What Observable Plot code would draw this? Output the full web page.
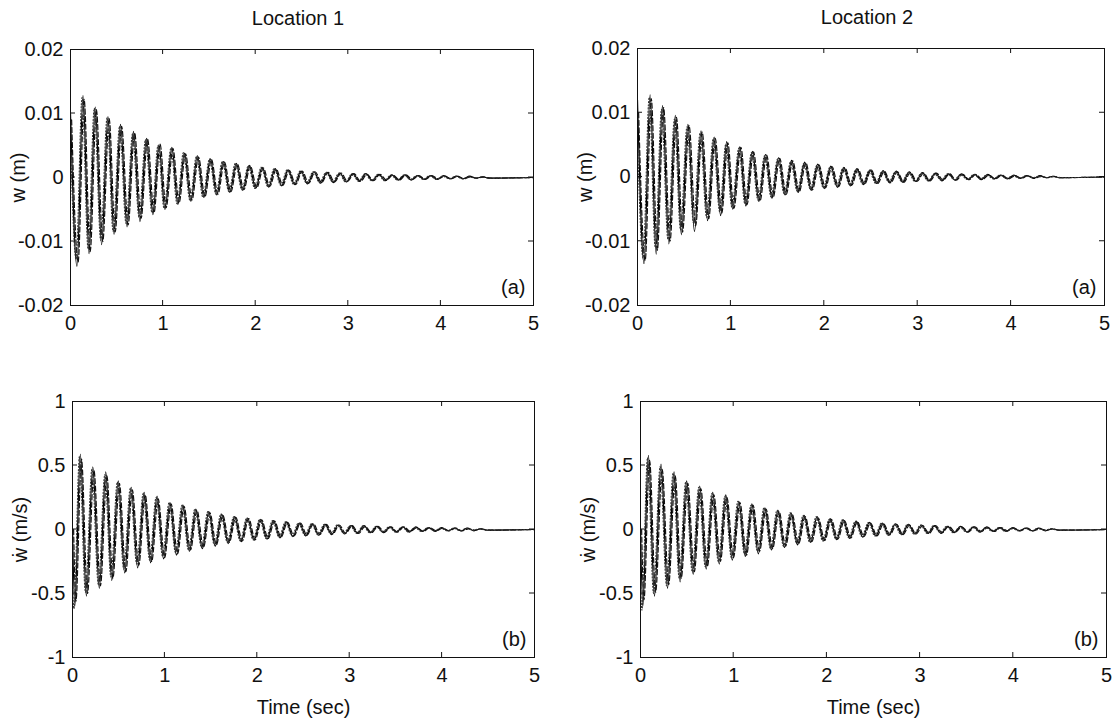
<!DOCTYPE html>
<html>
<head>
<meta charset="utf-8">
<script src="https://cdn.jsdelivr.net/npm/d3@7"></script>
<script src="https://cdn.jsdelivr.net/npm/@observablehq/plot@0.6"></script>
<style>
  html, body { margin: 0; padding: 0; background: #fff; }
  #wrap { position: relative; width: 1118px; height: 724px; background: #fff; overflow: hidden; }
  #wrap svg { position: absolute; }
</style>
</head>
<body>
<div id="wrap"></div>
<script>
// ---------- tick labels ----------
const xTicks = [0, 1, 2, 3, 4, 5];
const wTicks = [-0.02, -0.01, 0, 0.01, 0.02];
const vTicks = [-1, -0.5, 0, 0.5, 1];

// ---------- series names / time shifts ----------
const seriesNames = ["solid", "dashed", "dotted"];
const seriesShift = [0, 0.012, -0.010];

// ---------- times of the extrema (s) ----------
const tW = [0.00, 0.07, 0.135, 0.20, 0.267, 0.336, 0.405, 0.47, 0.54, 0.61,
  0.68, 0.75, 0.82, 0.89, 0.955, 1.02, 1.095, 1.16, 1.23, 1.30,
  1.37, 1.44, 1.51, 1.58, 1.65, 1.72, 1.79, 1.86, 1.93, 2.00,
  2.07, 2.14, 2.21, 2.28, 2.35, 2.42, 2.49, 2.56, 2.63, 2.70,
  2.77, 2.84, 2.91, 2.98, 3.05, 3.12, 3.19, 3.26, 3.33, 3.40,
  3.47, 3.54, 3.61, 3.68, 3.75, 3.82, 3.89, 3.96, 4.03, 4.10,
  4.17, 4.24, 4.31, 4.38, 4.45, 4.52, 5.00];
const tV = [0.00, 0.025, 0.085, 0.15, 0.22, 0.29, 0.36, 0.425, 0.495, 0.565,
  0.635, 0.705, 0.775, 0.845, 0.915, 0.985, 1.055, 1.125, 1.195, 1.265,
  1.335, 1.405, 1.475, 1.545, 1.615, 1.685, 1.755, 1.825, 1.895, 1.965,
  2.035, 2.105, 2.175, 2.245, 2.315, 2.385, 2.455, 2.525, 2.595, 2.665,
  2.735, 2.805, 2.875, 2.945, 3.015, 3.085, 3.155, 3.225, 3.295, 3.365,
  3.435, 3.505, 3.575, 3.645, 3.715, 3.785, 3.855, 3.925, 3.995, 4.065,
  4.135, 4.205, 4.275, 4.345, 4.415, 4.485, 5.00];

// ---------- Location 1, displacement w (m) ----------
const w1Solid = [0.010, -0.0139, 0.0128, -0.0119, 0.0110, -0.0105, 0.0095, -0.0089, 0.0083, -0.0077,
  0.0072, -0.0069, 0.0061, -0.0058, 0.0051, -0.0050, 0.0047, -0.0042, 0.0038, -0.0037,
  0.0034, -0.0031, 0.0029, -0.0027, 0.0025, -0.0023, 0.0022, -0.0020, 0.0019, -0.0017,
  0.0016, -0.0015, 0.0014, -0.0013, 0.0012, -0.0011, 0.0010, -0.0010, 0.0009, -0.0009,
  0.0008, -0.0008, 0.0007, -0.0007, 0.0006, -0.0006, 0.0006, -0.0005, 0.0005, -0.0005,
  0.0004, -0.0004, 0.0004, -0.0004, 0.0003, -0.0003, 0.0003, -0.0003, 0.0003, -0.0002,
  0.0002, -0.0002, 0.0002, -0.0001, 0.0001, -0.0001, 0];
const w1Dashed = [0.009, -0.0132, 0.0122, -0.0116, 0.0106, -0.0100, 0.0092, -0.0085, 0.0080, -0.0074,
  0.0070, -0.0064, 0.0060, -0.0055, 0.0052, -0.0047, 0.0045, -0.0040, 0.0037, -0.0035,
  0.0032, -0.0030, 0.0028, -0.0026, 0.0024, -0.0022, 0.0021, -0.0019, 0.0018, -0.0016,
  0.0015, -0.0014, 0.0013, -0.0012, 0.0011, -0.0011, 0.0010, -0.0009, 0.0009, -0.0008,
  0.0008, -0.0007, 0.0007, -0.0006, 0.0006, -0.0006, 0.0005, -0.0005, 0.0005, -0.0004,
  0.0004, -0.0004, 0.0004, -0.0003, 0.0003, -0.0003, 0.0003, -0.0002, 0.0002, -0.0002,
  0.0002, -0.0002, 0.0001, -0.0001, 0.0001, -0.0001, 0];
const w1Dotted = [0.011, -0.0128, 0.0125, -0.0112, 0.0108, -0.0098, 0.0093, -0.0084, 0.0080, -0.0072,
  0.0068, -0.0062, 0.0059, -0.0055, 0.0050, -0.0048, 0.0046, -0.0041, 0.0039, -0.0036,
  0.0033, -0.0031, 0.0029, -0.0026, 0.0025, -0.0022, 0.0022, -0.0019, 0.0018, -0.0017,
  0.0016, -0.0014, 0.0014, -0.0012, 0.0012, -0.0011, 0.0010, -0.0009, 0.0009, -0.0008,
  0.0008, -0.0007, 0.0007, -0.0007, 0.0006, -0.0006, 0.0006, -0.0005, 0.0005, -0.0005,
  0.0004, -0.0004, 0.0004, -0.0003, 0.0003, -0.0003, 0.0003, -0.0003, 0.0002, -0.0002,
  0.0002, -0.0002, 0.0001, -0.0001, 0.0001, -0.0001, 0];

// ---------- Location 2, displacement w (m) ----------
const w2Solid = [0.012, -0.0135, 0.0128, -0.0120, 0.0111, -0.0104, 0.0096, -0.0090, 0.0082, -0.0085,
  0.0072, -0.0068, 0.0062, -0.0060, 0.0055, -0.0050, 0.0047, -0.0045, 0.0040, -0.0038,
  0.0035, -0.0033, 0.0030, -0.0028, 0.0026, -0.0024, 0.0023, -0.0021, 0.0020, -0.0018,
  0.0017, -0.0016, 0.0015, -0.0014, 0.0013, -0.0012, 0.0011, -0.0010, 0.0010, -0.0009,
  0.0009, -0.0008, 0.0008, -0.0007, 0.0007, -0.0006, 0.0006, -0.0006, 0.0005, -0.0005,
  0.0005, -0.0004, 0.0004, -0.0004, 0.0004, -0.0003, 0.0003, -0.0003, 0.0003, -0.0002,
  0.0002, -0.0002, 0.0002, -0.0001, 0.0001, -0.0001, 0];
const w2Dashed = [0.010, -0.0130, 0.0122, -0.0114, 0.0108, -0.0100, 0.0093, -0.0086, 0.0080, -0.0076,
  0.0070, -0.0065, 0.0060, -0.0056, 0.0053, -0.0049, 0.0046, -0.0043, 0.0039, -0.0037,
  0.0034, -0.0032, 0.0029, -0.0027, 0.0025, -0.0023, 0.0022, -0.0020, 0.0019, -0.0017,
  0.0016, -0.0015, 0.0014, -0.0013, 0.0012, -0.0011, 0.0011, -0.0010, 0.0009, -0.0009,
  0.0008, -0.0008, 0.0007, -0.0007, 0.0006, -0.0006, 0.0006, -0.0005, 0.0005, -0.0005,
  0.0004, -0.0004, 0.0004, -0.0004, 0.0003, -0.0003, 0.0003, -0.0003, 0.0002, -0.0002,
  0.0002, -0.0002, 0.0001, -0.0001, 0.0001, -0.0001, 0];
const w2Dotted = [0.011, -0.0126, 0.0124, -0.0110, 0.0105, -0.0097, 0.0090, -0.0082, 0.0078, -0.0072,
  0.0068, -0.0063, 0.0059, -0.0054, 0.0051, -0.0047, 0.0045, -0.0042, 0.0038, -0.0036,
  0.0033, -0.0031, 0.0028, -0.0026, 0.0024, -0.0022, 0.0021, -0.0019, 0.0018, -0.0017,
  0.0015, -0.0014, 0.0014, -0.0012, 0.0012, -0.0011, 0.0010, -0.0010, 0.0009, -0.0008,
  0.0008, -0.0007, 0.0007, -0.0007, 0.0006, -0.0006, 0.0005, -0.0005, 0.0005, -0.0004,
  0.0004, -0.0004, 0.0004, -0.0003, 0.0003, -0.0003, 0.0003, -0.0002, 0.0002, -0.0002,
  0.0002, -0.0001, 0.0001, -0.0001, 0.0001, -0.0001, 0];

// ---------- Location 1, velocity (m/s) ----------
const v1Solid = [0, -0.60, 0.59, -0.52, 0.49, -0.46, 0.45, -0.40, 0.38, -0.34,
  0.33, -0.30, 0.29, -0.26, 0.26, -0.23, 0.21, -0.20, 0.19, -0.17,
  0.16, -0.15, 0.14, -0.13, 0.12, -0.11, 0.10, -0.095, 0.09, -0.085,
  0.08, -0.075, 0.07, -0.065, 0.06, -0.055, 0.05, -0.05, 0.045, -0.045,
  0.04, -0.04, 0.035, -0.035, 0.03, -0.03, 0.03, -0.025, 0.025, -0.025,
  0.02, -0.02, 0.02, -0.02, 0.02, -0.015, 0.015, -0.015, 0.015, -0.01,
  0.01, -0.01, 0.01, -0.01, 0.005, -0.005, 0];
const v1Dashed = [0, -0.56, 0.55, -0.50, 0.46, -0.44, 0.42, -0.38, 0.36, -0.33,
  0.31, -0.28, 0.27, -0.25, 0.24, -0.22, 0.20, -0.19, 0.18, -0.16,
  0.15, -0.14, 0.13, -0.12, 0.11, -0.10, 0.095, -0.09, 0.085, -0.08,
  0.075, -0.07, 0.065, -0.06, 0.055, -0.05, 0.05, -0.045, 0.045, -0.04,
  0.04, -0.035, 0.035, -0.03, 0.03, -0.03, 0.025, -0.025, 0.025, -0.02,
  0.02, -0.02, 0.02, -0.015, 0.015, -0.015, 0.015, -0.01, 0.01, -0.01,
  0.01, -0.01, 0.005, -0.005, 0.005, -0.005, 0];
const v1Dotted = [0, -0.62, 0.57, -0.49, 0.47, -0.43, 0.43, -0.37, 0.37, -0.31,
  0.32, -0.27, 0.28, -0.24, 0.25, -0.21, 0.21, -0.18, 0.19, -0.16,
  0.16, -0.14, 0.14, -0.12, 0.12, -0.10, 0.10, -0.09, 0.09, -0.08,
  0.08, -0.07, 0.07, -0.06, 0.06, -0.05, 0.05, -0.045, 0.045, -0.04,
  0.04, -0.035, 0.035, -0.03, 0.03, -0.03, 0.03, -0.025, 0.025, -0.02,
  0.02, -0.02, 0.02, -0.02, 0.015, -0.015, 0.015, -0.01, 0.01, -0.01,
  0.01, -0.01, 0.01, -0.005, 0.005, -0.005, 0];

// ---------- Location 2, velocity (m/s) ----------
const v2Solid = [0, -0.60, 0.58, -0.52, 0.51, -0.46, 0.45, -0.41, 0.38, -0.35,
  0.34, -0.31, 0.29, -0.27, 0.27, -0.24, 0.22, -0.21, 0.20, -0.19,
  0.17, -0.16, 0.15, -0.14, 0.13, -0.12, 0.11, -0.10, 0.10, -0.09,
  0.085, -0.08, 0.075, -0.07, 0.065, -0.06, 0.055, -0.05, 0.05, -0.045,
  0.045, -0.04, 0.04, -0.035, 0.035, -0.03, 0.03, -0.03, 0.025, -0.025,
  0.025, -0.02, 0.02, -0.02, 0.02, -0.015, 0.015, -0.015, 0.015, -0.01,
  0.01, -0.01, 0.01, -0.01, 0.005, -0.005, 0];
const v2Dashed = [0, -0.55, 0.54, -0.49, 0.47, -0.43, 0.42, -0.38, 0.36, -0.33,
  0.32, -0.29, 0.27, -0.25, 0.25, -0.22, 0.21, -0.20, 0.19, -0.17,
  0.16, -0.15, 0.14, -0.13, 0.12, -0.11, 0.10, -0.095, 0.09, -0.085,
  0.08, -0.075, 0.07, -0.065, 0.06, -0.055, 0.05, -0.05, 0.045, -0.04,
  0.04, -0.04, 0.035, -0.035, 0.03, -0.03, 0.03, -0.025, 0.025, -0.02,
  0.02, -0.02, 0.02, -0.015, 0.015, -0.015, 0.015, -0.01, 0.01, -0.01,
  0.01, -0.01, 0.005, -0.005, 0.005, -0.005, 0];
const v2Dotted = [0, -0.63, 0.56, -0.50, 0.49, -0.44, 0.44, -0.38, 0.37, -0.33,
  0.33, -0.29, 0.28, -0.25, 0.26, -0.22, 0.22, -0.19, 0.19, -0.17,
  0.17, -0.15, 0.15, -0.13, 0.13, -0.11, 0.11, -0.10, 0.10, -0.09,
  0.08, -0.075, 0.075, -0.065, 0.065, -0.055, 0.055, -0.05, 0.05, -0.045,
  0.04, -0.04, 0.04, -0.035, 0.035, -0.03, 0.03, -0.025, 0.025, -0.025,
  0.02, -0.02, 0.02, -0.02, 0.015, -0.015, 0.015, -0.015, 0.01, -0.01,
  0.01, -0.01, 0.01, -0.005, 0.005, -0.005, 0];

// ---------- build tables ----------
function table(times, arrays) {
  const rows = [];
  arrays.forEach((vals, s) => {
    const n = Math.min(times.length, vals.length);
    for (let i = 0; i < n; i++) rows.push({t: times[i] + seriesShift[s], v: vals[i], s: seriesNames[s]});
  });
  return rows;
}

const fmt = d => String(d);
const FONT = "'Liberation Sans', Arial, Helvetica, sans-serif";
const dashes = {solid: null, dashed: "5,2.5", dotted: "1.2,2"};
const strokes = {solid: "#000", dashed: "#111", dotted: "#333"};

function inwardTicks(xt, yt, len = 5) {
  return (index, scales, values, dims) => {
    const ns = "http://www.w3.org/2000/svg";
    const l = dims.marginLeft, t = dims.marginTop;
    const r = dims.width - dims.marginRight, b = dims.height - dims.marginBottom;
    let d = "";
    for (const v of xt) { const x = scales.x(v); d += `M${x},${b}v${-len}M${x},${t}v${len}`; }
    for (const v of yt) { const y = scales.y(v); d += `M${l},${y}h${len}M${r},${y}h${-len}`; }
    const p = document.createElementNS(ns, "path");
    p.setAttribute("d", d);
    p.setAttribute("stroke", "#111");
    p.setAttribute("fill", "none");
    p.setAttribute("stroke-width", "1");
    return p;
  };
}

function panel({rows, yDomain, yTicks, yLabel, letter, title, xLabel, margins, pos}) {
  const lineMarks = seriesNames.map(name => Plot.line(rows.filter(r => r.s === name), {
    x: "t", y: "v", curve: "monotone-x", clip: true,
    stroke: strokes[name],
    strokeWidth: name === "dotted" ? 1.1 : 1.2,
    strokeDasharray: dashes[name]
  }));
  const marks = [
    ...lineMarks,
    Plot.frame({stroke: "#111", strokeWidth: 1}),
    Plot.axisX({ticks: xTicks, tickSize: 0, tickPadding: 10, tickFormat: fmt,
      label: xLabel, labelAnchor: "center", labelArrow: "none", labelOffset: 56}),
    Plot.axisY({ticks: yTicks, tickSize: 0, tickPadding: 7, tickFormat: fmt,
      label: yLabel, labelAnchor: "center", labelArrow: "none", labelOffset: 60}),
    Plot.text([letter], {frameAnchor: "bottom-right", dx: -8, dy: -12, fontSize: 20, lineAnchor: "bottom", textAnchor: "end"}),
    inwardTicks(xTicks.slice(1, -1), yTicks.slice(1, -1))
  ];
  if (title) marks.push(Plot.text([title], {frameAnchor: "top", dy: -31, fontSize: 20, lineAnchor: "middle", dx: -4}));
  const svg = Plot.plot({
    width: 559, height: 362,
    marginLeft: margins[0], marginRight: margins[1], marginTop: margins[2], marginBottom: margins[3],
    x: {domain: [0, 5], label: null},
    y: {domain: yDomain, label: null},
    style: {fontFamily: FONT, fontSize: "20px", color: "#111", background: "transparent", overflow: "visible"},
    marks
  });
  svg.style.left = pos[0] + "px";
  svg.style.top = pos[1] + "px";
  document.getElementById("wrap").appendChild(svg);
}

panel({rows: table(tW, [w1Solid, w1Dashed, w1Dotted]), yDomain: [-0.02, 0.02], yTicks: wTicks,
  yLabel: "w (m)", letter: "(a)", title: "Location 1", xLabel: null, margins: [70, 26, 49, 57], pos: [0, 0]});
panel({rows: table(tW, [w2Solid, w2Dashed, w2Dotted]), yDomain: [-0.02, 0.02], yTicks: wTicks,
  yLabel: "w (m)", letter: "(a)", title: "Location 2", xLabel: null, margins: [78, 14, 48, 57], pos: [559, 0]});
panel({rows: table(tV, [v1Solid, v1Dashed, v1Dotted]), yDomain: [-1, 1], yTicks: vTicks,
  yLabel: "ẇ (m/s)", letter: "(b)", title: null, xLabel: "Time (sec)", margins: [72, 25, 39, 67], pos: [0, 362]});
panel({rows: table(tV, [v2Solid, v2Dashed, v2Dotted]), yDomain: [-1, 1], yTicks: vTicks,
  yLabel: "ẇ (m/s)", letter: "(b)", title: null, xLabel: "Time (sec)", margins: [81, 12, 39, 67], pos: [559, 362]});
</script>
</body>
</html>
